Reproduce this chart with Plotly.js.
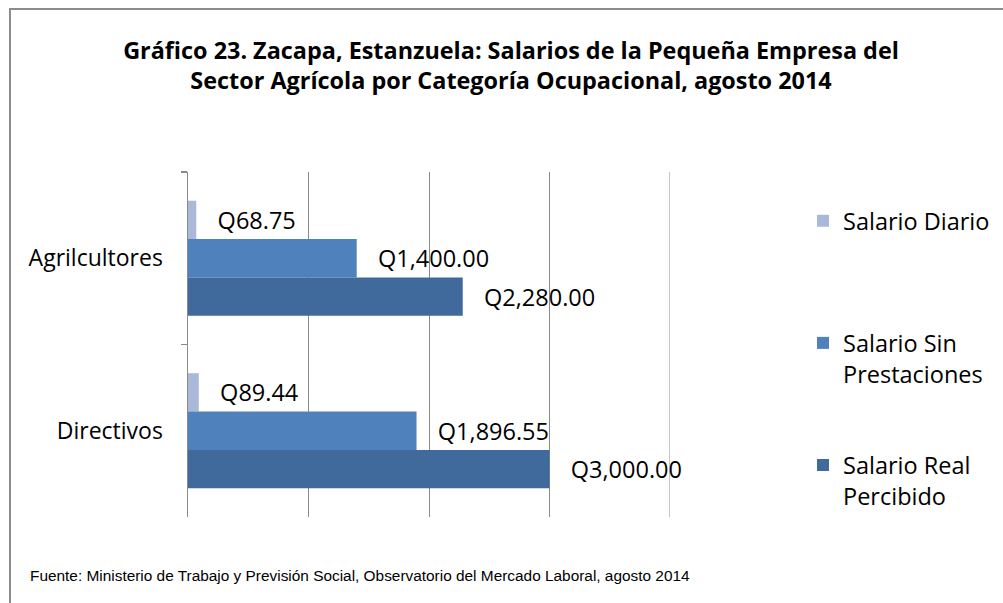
<!DOCTYPE html>
<html><head><meta charset="utf-8">
<script src="https://cdn.plot.ly/plotly-3.0.1.min.js"></script>
<style>
html,body{margin:0;padding:0;background:#fff;}
#wrap{position:relative;width:1003px;height:603px;overflow:hidden;}
#chart{width:1003px;height:603px;}
#frame{position:absolute;left:9px;top:8px;width:1100px;height:700px;border-left:2px solid #8c8c8c;border-top:2px solid #8c8c8c;pointer-events:none;}
</style></head>
<body><div id="wrap"><div id="chart"></div><div id="frame"></div></div>
<script>
const categories = ["Agrilcultores", "Directivos"];
const seriesNames = ["Salario Diario<br>\u00a0", "Salario Sin<br>Prestaciones", "Salario Real<br>Percibido"];
const salarioDiario = [68.75, 89.44];
const salarioSinPrestaciones = [1400.00, 1896.55];
const salarioRealPercibido = [2280.00, 3000.00];
const colors = ["#AAB9D8", "#4F81BD", "#3F6A9B"];
const values = [salarioDiario, salarioSinPrestaciones, salarioRealPercibido];
const xMax = 4000;

const pad = "\u00a0\u00a0\u00a0";
const traces = values.map((v, i) => ({
  type: "bar", orientation: "h",
  x: v, y: categories, name: seriesNames[i],
  legendgroup: "g" + i,
  marker: {color: colors[i]},
  text: v.map(val => "Q" + val.toLocaleString("en-US", {minimumFractionDigits: 2, maximumFractionDigits: 2})),
  texttemplate: pad + "%{text}",
  textposition: "outside",
  constraintext: "none",
  cliponaxis: false,
  textfont: {family: "Open Sans", size: 23.5, color: "#000"},
  hoverinfo: "skip"
}));

const layout = {
  width: 1003, height: 603,
  margin: {l: 188, r: 333, t: 172, b: 86},
  paper_bgcolor: "#fff", plot_bgcolor: "#fff",
  barmode: "group", bargap: 0.333, bargroupgap: 0,
  title: {
    text: "<b>Gráfico 23. Zacapa, Estanzuela: Salarios de la Pequeña Empresa del<br>Sector Agrícola por Categoría Ocupacional, agosto 2014</b>",
    font: {family: "Open Sans", size: 23.4, color: "#000"},
    xref: "container", x: 0.5095, xanchor: "center",
    yref: "container", y: 1 - 59/603, yanchor: "middle"
  },
  xaxis: {
    range: [0, xMax], dtick: 1000, tick0: 0, showticklabels: false,
    showgrid: true, gridcolor: "#8a8a8a", gridwidth: 1,
    zeroline: false, showline: false, ticks: "", fixedrange: true
  },
  yaxis: {
    autorange: "reversed", type: "category",
    showline: true, linecolor: "#8a8a8a", linewidth: 1.5,
    ticks: "outside", tickson: "boundaries", ticklen: 6, tickcolor: "#8a8a8a", tickwidth: 1.5,
    ticklabelstandoff: 19,
    tickfont: {family: "Open Sans", size: 23, color: "#000"},
    showgrid: false, zeroline: false
  },
  shapes: [{
    type: "line", xref: "x", yref: "paper",
    x0: xMax, x1: xMax, y0: 0, y1: 1,
    line: {color: "#8a8a8a", width: 1}, layer: "below"
  }],
  showlegend: true,
  legend: {
    xref: "container", yref: "container",
    x: 803/1003, y: 1 - 199/603, xanchor: "left", yanchor: "top",
    traceorder: "grouped", tracegroupgap: 58, valign: "top",
    maxheight: 400,
    font: {family: "Open Sans", size: 23.5, color: "#000"},
    itemwidth: 30
  },
  annotations: [{
    text: "Fuente: Ministerio de Trabajo y Previsión Social, Observatorio del Mercado Laboral, agosto 2014",
    xref: "paper", yref: "paper",
    x: (28 - 188) / 482, y: (517 - 575) / 345,
    xanchor: "left", yanchor: "middle", showarrow: false,
    font: {family: "Liberation Sans Narrow, Arial Narrow, Liberation Sans", size: 15.4, color: "#000"}
  }]
};

Plotly.newPlot("chart", traces, layout, {displayModeBar: false, staticPlot: true});
</script></body></html>
